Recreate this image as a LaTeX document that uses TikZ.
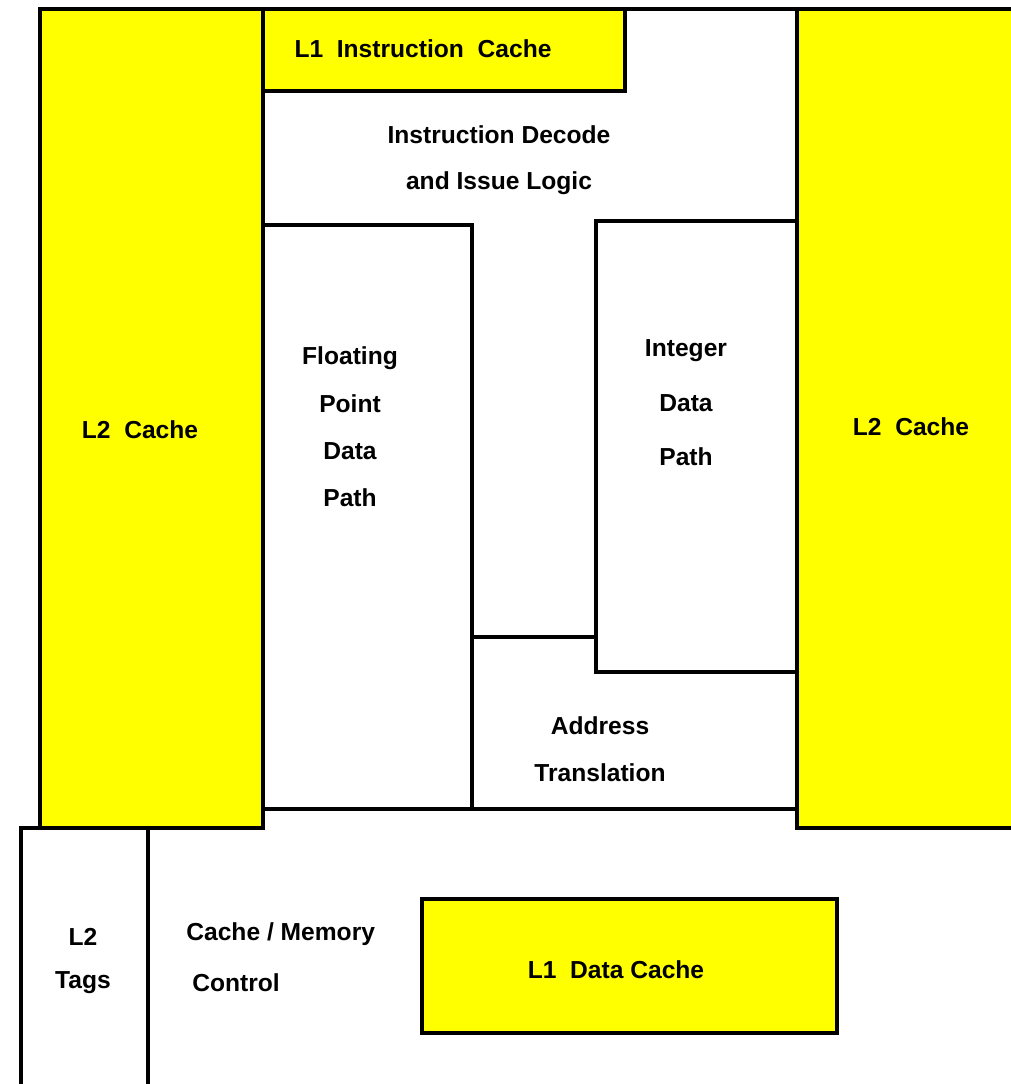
\documentclass[tikz,border=0pt]{standalone}
\usepackage{fontspec}
\setmainfont{Liberation Sans}
\usetikzlibrary{positioning}
\definecolor{chipyellow}{RGB}{255,255,0}

\begin{document}
\begin{tikzpicture}[x=0.2mm, y=-0.2mm,
   block/.style={draw, line width=2pt},
   cache/.style={block, fill=chipyellow},
   lbl/.style={font=\bfseries\fontsize{14}{27}\selectfont, align=center, inner sep=0pt}]
   \useasboundingbox (0,0) rectangle (1010,1084);

   % yellow caches
   \draw[cache] (40,9) rectangle (263,828);
   \draw[cache] (797,9) rectangle (1040,828);
   \draw[cache] (263,9) rectangle (625,91);
   \draw[cache] (422,899) rectangle (837,1033);

   % core outline and data paths
   \draw[block] (625,9) -- (797,9);
   \draw[block] (263,225) rectangle (472,809);
   \draw[block] (596,221) rectangle (797,672);
   \draw[block] (472,637) -- (598,637);
   \draw[block] (472,809) -- (797,809);
   \draw[block] (21,828) rectangle (148,1110);

   \node (l1i) at (423,49) [lbl] {L1\ \ Instruction\ \ Cache};
   \node (decode) at (499,160) [lbl, font=\bfseries\fontsize{14}{26}\selectfont] {Instruction Decode\\and Issue Logic};
   \node (fpdp) at (350,427) [lbl] {Floating\\Point\\Data\\Path};
   \node (intdp) at (686,403) [lbl, font=\bfseries\fontsize{14}{31}\selectfont] {Integer\\Data\\Path};
   \node (l2left) at (140,430) [lbl] {L2\ \ Cache};
   \node (l2right) at (911,427) [lbl] {L2\ \ Cache};
   \node (addr) at (600,749) [lbl] {Address\\Translation};
   \node (tags) at (83,961) [lbl, font=\bfseries\fontsize{14}{25}\selectfont] {L2\\Tags};
   \node (memctl) at (186,957) [lbl, anchor=west, align=left, font=\bfseries\fontsize{14}{29}\selectfont] {Cache / Memory\\\hspace{1.2mm}Control};
   \node (l1d) at (616,970) [lbl] {L1\ \ Data Cache};
\end{tikzpicture}
\end{document}
